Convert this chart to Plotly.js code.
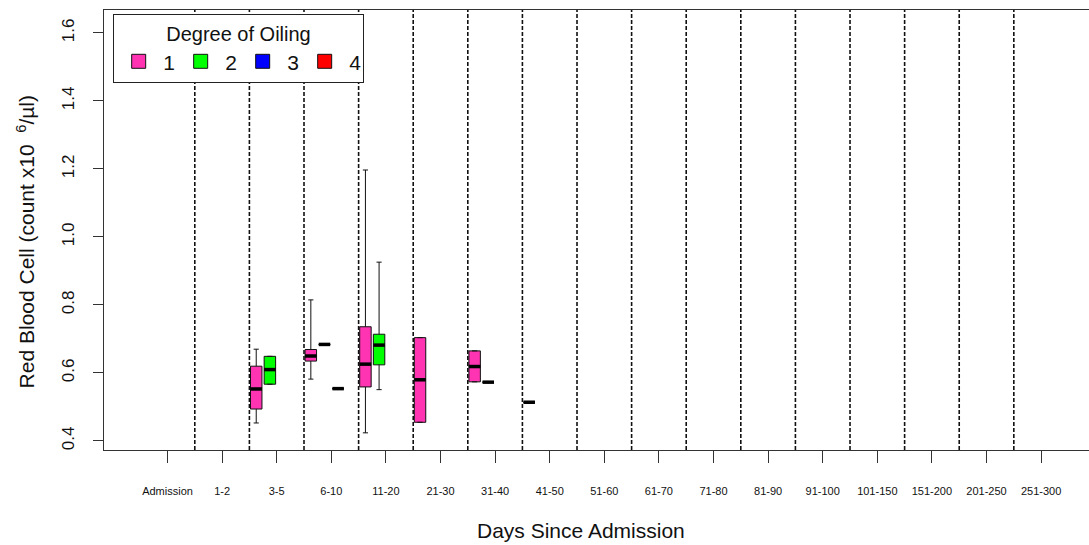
<!DOCTYPE html>
<html>
<head>
<meta charset="utf-8">
<script src="https://cdn.plot.ly/plotly-3.0.1.min.js"></script>
<style>
  html, body { margin: 0; padding: 0; overflow: hidden; background: #fff; }
  #chart { width: 1110px; height: 545px; }
</style>
</head>
<body>
<div id="chart"></div>
<script>
// ---- data ----
const categories = ["Admission","1-2","3-5","6-10","11-20","21-30","31-40","41-50","51-60","61-70","71-80","81-90","91-100","101-150","151-200","201-250","251-300"];
const degrees = ["1","2","3","4"];
const degreeColors = ["#FF34B3","#00FF00","#0000FF","#FF0000"];

// Degree 1
const deg1Cats  = ["3-5","6-10","11-20","21-30","31-40","41-50"];
const deg1Low   = [0.453, 0.582, 0.424, 0.455, 0.574, 0.514];
const deg1Q1    = [0.494, 0.635, 0.559, 0.455, 0.574, 0.514];
const deg1Med   = [0.553, 0.650, 0.626, 0.580, 0.619, 0.514];
const deg1Q3    = [0.620, 0.669, 0.736, 0.704, 0.665, 0.514];
const deg1High  = [0.670, 0.815, 1.197, 0.704, 0.665, 0.514];
// Degree 2
const deg2Cats  = ["3-5","6-10","11-20","31-40"];
const deg2Low   = [0.567, 0.684, 0.551, 0.573];
const deg2Q1    = [0.567, 0.684, 0.624, 0.573];
const deg2Med   = [0.610, 0.684, 0.682, 0.573];
const deg2Q3    = [0.649, 0.684, 0.714, 0.573];
const deg2High  = [0.649, 0.684, 0.926, 0.573];
// Degree 3
const deg3Cats  = ["6-10"];
const deg3Low   = [0.554];
const deg3Q1    = [0.554];
const deg3Med   = [0.554];
const deg3Q3    = [0.554];
const deg3High  = [0.554];
// Degree 4 (no observations)
const deg4Cats  = [];
const deg4Low   = [];
const deg4Q1    = [];
const deg4Med   = [];
const deg4Q3    = [];
const deg4High  = [];

const yTicks = [0.4, 0.6, 0.8, 1.0, 1.2, 1.4, 1.6];
const xTitle = "Days Since Admission";
const yTitle = "Red Blood Cell (count x10&nbsp; <sup>6</sup>/µl)";
const legendTitle = "Degree of Oiling";

// ---- build ----
const series = [
  {cats: deg1Cats, low: deg1Low, q1: deg1Q1, med: deg1Med, q3: deg1Q3, high: deg1High},
  {cats: deg2Cats, low: deg2Low, q1: deg2Q1, med: deg2Med, q3: deg2Q3, high: deg2High},
  {cats: deg3Cats, low: deg3Low, q1: deg3Q1, med: deg3Med, q3: deg3Q3, high: deg3High},
  {cats: deg4Cats, low: deg4Low, q1: deg4Q1, med: deg4Med, q3: deg4Q3, high: deg4High}
];
const slot = 0.25, boxW = 0.21;
const font = "Liberation Sans, Arial, sans-serif";
const traces = [];
const medX = [], medY = [];
series.forEach((s, k) => {
  const off = (k - (degrees.length - 1) / 2) * slot;
  const pos = s.cats.map(c => categories.indexOf(c) + off);
  if (pos.length) {
    traces.push({
      type: "box", x: pos, q1: s.q1, median: s.med, q3: s.q3,
      lowerfence: s.low, upperfence: s.high,
      width: boxW, whiskerwidth: 0.45, boxpoints: false,
      fillcolor: degreeColors[k], line: {color: "#111", width: 1},
      showlegend: false, hoverinfo: "skip"
    });
  }
  pos.forEach((p, i) => {
    medX.push(p - boxW / 2, p + boxW / 2, null);
    medY.push(s.med[i], s.med[i], null);
  });
});
traces.push({
  type: "scatter", mode: "lines", x: medX, y: medY,
  line: {color: "#000", width: 3.5}, showlegend: false, hoverinfo: "skip"
});
degrees.forEach((d, k) => {
  traces.push({
    type: "scatter", mode: "markers", x: [null], y: [null], name: d,
    marker: {symbol: "square", size: 14, color: degreeColors[k], line: {color: "#111", width: 1}}
  });
});

const shapes = [];
for (let i = 0; i < categories.length - 1; i++) {
  shapes.push({type: "line", xref: "x", yref: "paper", x0: i + 0.5, x1: i + 0.5, y0: 0, y1: 1,
    layer: "below", line: {color: "#111", width: 1.6, dash: "4px,2px"}});
}

const layout = {
  width: 1110, height: 545,
  margin: {l: 104, r: 8, t: 10, b: 95},
  paper_bgcolor: "#fff", plot_bgcolor: "#fff",
  font: {family: font, color: "#111"},
  showlegend: true,
  xaxis: {
    range: [-1.163, 17.115], tickvals: categories.map((c, i) => i), ticktext: categories,
    ticks: "outside", ticklen: 12, tickcolor: "#333", tickwidth: 1,
    tickfont: {size: 11, family: font, color: "#111"}, ticklabelstandoff: 18,
    showline: true, mirror: true, linecolor: "#333", linewidth: 1.4,
    showgrid: false, zeroline: false, fixedrange: true
  },
  yaxis: {
    range: [0.3735, 1.6676], tickvals: yTicks, tickformat: ".1f", tickangle: -90,
    ticks: "outside", ticklen: 10, tickcolor: "#333", tickwidth: 1,
    tickfont: {size: 17, family: font, color: "#111"}, ticklabelstandoff: 12,
    showline: true, mirror: true, linecolor: "#333", linewidth: 1.4,
    showgrid: false, zeroline: false, fixedrange: true
  },
  annotations: [
    {text: xTitle, xref: "paper", yref: "paper", x: 0.478, y: -0.184, xanchor: "center", yanchor: "middle",
     showarrow: false, font: {size: 21, family: font, color: "#111"}},
    {text: yTitle, xref: "paper", yref: "paper", x: -0.0782, y: 0.474, xanchor: "center", yanchor: "middle",
     textangle: -90, showarrow: false, font: {size: 21, family: font, color: "#111"}}
  ],
  legend: {
    orientation: "h", x: 0.009, y: 0.991, xanchor: "left", yanchor: "top",
    bgcolor: "#fff", bordercolor: "#222", borderwidth: 1.2,
    font: {size: 21, family: font, color: "#111"},
    title: {text: legendTitle, side: "top center", font: {size: 20, family: font, color: "#111"}},
    itemwidth: 39, entrywidth: 8, entrywidthmode: "pixels", itemclick: false, itemdoubleclick: false
  },
  shapes: shapes
};

Plotly.newPlot("chart", traces, layout, {displayModeBar: false, staticPlot: true});
</script>
</body>
</html>
